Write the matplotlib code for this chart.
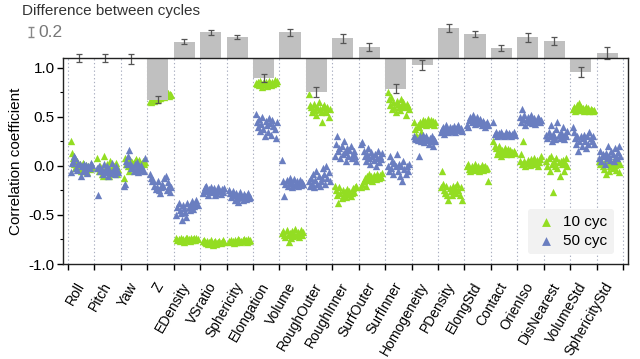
import matplotlib
matplotlib.use("Agg")
import matplotlib.pyplot as plt
import numpy as np
from matplotlib.ticker import MultipleLocator, FixedLocator

plt.rcParams['font.family'] = ['Liberation Sans', 'DejaVu Sans']

categories = ["Roll", "Pitch", "Yaw", "Z", "EDensity", "VSratio", "Sphericity",
              "Elongation", "Volume", "RoughOuter", "RoughInner", "SurfOuter",
              "SurfInner", "Homogeneity", "PDensity", "ElongStd", "Contact",
              "OrienIso", "DisNearest", "VolumeStd", "SphericityStd"]

# difference between cycles (50 cyc - 10 cyc) and its error
diff = [0.0, 0.0, -0.02, -0.85, 0.33, 0.52, 0.43, -0.41, 0.52, -0.70, 0.40,
        0.22, -0.63, -0.15, 0.61, 0.49, 0.20, 0.42, 0.35, -0.29, 0.10]
diff_err = [0.075, 0.085, 0.095, 0.075, 0.05, 0.05, 0.045, 0.075, 0.07, 0.105,
            0.085, 0.085, 0.09, 0.10, 0.075, 0.07, 0.065, 0.095, 0.075, 0.10, 0.12]

corr_10cyc = [
    [0.25, 0.13, 0.08, 0.02, -0.02, 0.0, 0.05, -0.03, 0.02, -0.05, 0.0, 0.03, -0.04, -0.02, 0.01, -0.06, 0.0, -0.03, 0.02, -0.01],
    [0.08, -0.02, -0.05, 0.0, -0.08, -0.1, 0.1, -0.03, -0.06, 0.02, -0.04, -0.1, 0.05, -0.02, -0.07, 0.0, -0.05, 0.03, -0.08, -0.03],
    [-0.12, 0.08, 0.02, 0.05, 0.0, -0.05, 0.06, 0.03, 0.04, 0.02, -0.02, 0.05, 0.07, 0.01, 0.04, 0.06, 0.03, 0.0, 0.05, 0.02, 0.04],
    [0.66, 0.65, 0.67, 0.68, 0.66, 0.69, 0.67, 0.68, 0.70, 0.69, 0.70, 0.71, 0.72, 0.70, 0.73, 0.72, 0.74, 0.71, 0.73, 0.72],
    [-0.74, -0.76, -0.75, -0.77, -0.74, -0.76, -0.75, -0.78, -0.76, -0.74, -0.73, -0.75, -0.77, -0.74, -0.76, -0.75, -0.73, -0.76, -0.74, -0.75],
    [-0.77, -0.76, -0.78, -0.79, -0.77, -0.80, -0.78, -0.76, -0.79, -0.81, -0.78, -0.77, -0.80, -0.79, -0.78, -0.77, -0.79, -0.78, -0.76, -0.78],
    [-0.77, -0.78, -0.76, -0.77, -0.79, -0.76, -0.78, -0.77, -0.75, -0.76, -0.78, -0.77, -0.76, -0.75, -0.77, -0.76, -0.78, -0.75, -0.77, -0.76],
    [0.85, 0.83, 0.86, 0.82, 0.87, 0.84, 0.80, 0.85, 0.83, 0.86, 0.81, 0.84, 0.87, 0.85, 0.82, 0.86, 0.84, 0.88, 0.85, 0.87],
    [-0.68, -0.66, -0.70, -0.72, -0.65, -0.70, -0.78, -0.68, -0.73, -0.66, -0.71, -0.69, -0.64, -0.70, -0.67, -0.72, -0.68, -0.65, -0.70, -0.67],
    [0.73, 0.62, 0.60, 0.55, 0.58, 0.63, 0.57, 0.52, 0.60, 0.65, 0.58, 0.55, 0.45, 0.60, 0.62, 0.57, 0.55, 0.60, 0.50, 0.58],
    [-0.20, -0.25, -0.30, -0.38, -0.22, -0.28, -0.33, -0.25, -0.30, -0.27, -0.32, -0.24, -0.29, -0.26, -0.31, -0.28, -0.23, -0.27, -0.22, -0.20],
    [-0.22, -0.18, -0.15, -0.12, -0.20, -0.10, -0.14, -0.08, -0.12, -0.10, -0.15, -0.09, -0.11, -0.13, -0.08, -0.10, -0.12, -0.09, -0.11, -0.07],
    [0.75, 0.68, 0.62, 0.70, 0.58, 0.65, 0.60, 0.55, 0.66, 0.63, 0.60, 0.57, 0.68, 0.62, 0.65, 0.60, 0.52, 0.63, 0.61, 0.58],
    [0.45, 0.38, 0.32, 0.42, 0.40, 0.45, 0.35, 0.43, 0.47, 0.44, 0.46, 0.42, 0.48, 0.45, 0.43, 0.47, 0.44, 0.46, 0.42, 0.45],
    [-0.22, -0.05, -0.18, -0.25, -0.28, -0.20, -0.30, -0.35, -0.23, -0.26, -0.30, -0.20, -0.25, -0.22, -0.28, -0.18, -0.25, -0.30, -0.22, -0.35],
    [0.0, 0.02, -0.03, -0.05, 0.0, -0.02, -0.04, 0.02, -0.01, -0.03, 0.0, -0.05, -0.02, 0.01, -0.04, -0.01, 0.0, -0.03, -0.02, -0.15],
    [0.25, 0.20, 0.18, 0.12, 0.15, 0.20, 0.14, 0.10, 0.16, 0.13, 0.18, 0.12, 0.15, 0.17, 0.13, 0.16, 0.12, 0.14, 0.15, 0.13],
    [0.05, 0.12, 0.02, 0.25, 0.05, 0.0, 0.03, 0.06, 0.04, 0.01, 0.07, 0.03, 0.05, 0.08, 0.02, 0.06, 0.0, 0.04, 0.07, 0.10],
    [0.05, 0.0, 0.08, -0.05, 0.10, 0.02, -0.27, 0.05, 0.0, 0.08, -0.02, 0.04, -0.10, 0.05, 0.02, 0.06, -0.05, 0.03, 0.08, 0.0],
    [0.58, 0.60, 0.56, 0.57, 0.62, 0.58, 0.64, 0.60, 0.57, 0.59, 0.56, 0.58, 0.60, 0.57, 0.59, 0.56, 0.58, 0.57, 0.56, 0.57],
    [0.05, 0.02, 0.06, 0.0, -0.03, 0.04, -0.08, 0.02, 0.05, -0.05, 0.0, 0.03, -0.02, 0.06, 0.01, -0.04, 0.02, 0.04, -0.06, 0.02],
]

corr_50cyc = [
    [-0.06, 0.03, 0.05, 0.10, 0.08, -0.02, -0.04, 0.03, 0.02, -0.10, 0.0, -0.05, 0.02, -0.03, 0.01, -0.07, 0.0, -0.02, 0.03, 0.01],
    [-0.02, -0.30, 0.0, -0.05, -0.03, -0.08, 0.02, -0.06, -0.04, 0.0, -0.10, -0.03, -0.07, 0.03, -0.05, -0.02, -0.08, 0.0, -0.04, -0.06],
    [-0.20, -0.18, 0.05, 0.02, 0.10, 0.16, 0.03, -0.02, 0.0, -0.05, 0.02, -0.03, 0.04, -0.06, 0.0, -0.04, 0.01, -0.03, -0.05, 0.08],
    [-0.08, -0.12, -0.15, -0.14, -0.20, -0.24, -0.22, -0.15, -0.25, -0.28, -0.22, -0.18, -0.20, -0.12, -0.10, -0.25, -0.16, -0.20, -0.27, -0.22],
    [-0.50, -0.42, -0.38, -0.45, -0.48, -0.55, -0.40, -0.43, -0.47, -0.52, -0.38, -0.42, -0.45, -0.40, -0.36, -0.44, -0.41, -0.38, -0.35, -0.40],
    [-0.28, -0.25, -0.22, -0.20, -0.26, -0.30, -0.24, -0.22, -0.27, -0.25, -0.23, -0.30, -0.28, -0.26, -0.22, -0.25, -0.29, -0.24, -0.27, -0.23],
    [-0.25, -0.28, -0.32, -0.26, -0.30, -0.35, -0.28, -0.33, -0.37, -0.30, -0.27, -0.32, -0.35, -0.29, -0.31, -0.34, -0.30, -0.28, -0.33, -0.32],
    [0.53, 0.45, 0.40, 0.48, 0.36, 0.43, 0.50, 0.38, 0.30, 0.46, 0.42, 0.35, 0.49, 0.44, 0.32, 0.47, 0.41, 0.38, 0.28, 0.45],
    [0.06, -0.15, -0.31, -0.18, -0.14, -0.20, -0.17, -0.12, -0.16, -0.22, -0.19, -0.13, -0.18, -0.15, -0.20, -0.17, -0.14, -0.19, -0.16, -0.18],
    [-0.15, -0.20, -0.12, -0.18, -0.08, -0.22, -0.14, -0.05, -0.18, -0.10, -0.20, -0.15, -0.12, -0.02, -0.08, -0.18, 0.0, -0.12, -0.06, -0.15],
    [0.10, 0.22, 0.30, 0.15, 0.18, 0.08, 0.20, 0.12, 0.25, 0.14, 0.05, 0.18, 0.10, 0.16, 0.20, 0.08, 0.12, 0.15, 0.10, 0.05],
    [0.22, 0.24, 0.15, 0.10, 0.05, 0.12, 0.18, 0.08, 0.02, 0.14, 0.10, 0.06, 0.12, 0.0, 0.08, 0.15, 0.04, 0.10, 0.07, 0.13],
    [0.0, -0.05, 0.10, -0.02, 0.05, -0.08, 0.03, 0.0, 0.12, -0.05, 0.02, -0.10, 0.0, -0.15, 0.05, -0.03, -0.08, 0.0, -0.05, 0.02],
    [0.30, 0.28, 0.27, 0.26, 0.10, 0.30, 0.25, 0.28, 0.32, 0.24, 0.28, 0.30, 0.26, 0.22, 0.28, 0.25, 0.30, 0.20, 0.27, 0.25],
    [0.35, 0.38, 0.40, 0.33, 0.36, 0.42, 0.38, 0.35, 0.40, 0.37, 0.39, 0.36, 0.41, 0.35, 0.38, 0.40, 0.42, 0.37, 0.39, 0.36],
    [0.42, 0.40, 0.47, 0.50, 0.45, 0.52, 0.48, 0.43, 0.47, 0.50, 0.45, 0.44, 0.48, 0.42, 0.46, 0.44, 0.40, 0.43, 0.45, 0.42],
    [0.45, 0.33, 0.35, 0.30, 0.32, 0.34, 0.31, 0.35, 0.33, 0.30, 0.32, 0.35, 0.33, 0.31, 0.34, 0.32, 0.30, 0.33, 0.35, 0.32],
    [0.50, 0.45, 0.58, 0.48, 0.52, 0.42, 0.47, 0.50, 0.45, 0.48, 0.52, 0.44, 0.47, 0.49, 0.43, 0.46, 0.50, 0.48, 0.45, 0.47],
    [0.32, 0.28, 0.35, 0.30, 0.42, 0.25, 0.33, 0.30, 0.27, 0.38, 0.45, 0.32, 0.28, 0.35, 0.30, 0.40, 0.27, 0.33, 0.30, 0.36],
    [0.40, 0.35, 0.28, 0.22, 0.30, 0.15, 0.25, 0.30, 0.20, 0.28, 0.32, 0.25, 0.18, 0.30, 0.22, 0.35, 0.28, 0.25, 0.30, 0.22],
    [0.08, 0.15, 0.05, 0.12, 0.10, 0.02, 0.13, 0.08, 0.20, 0.10, 0.06, 0.15, 0.12, 0.05, 0.18, 0.10, 0.08, 0.14, 0.20, 0.10],
]

series_labels = ["10 cyc", "50 cyc"]
scale_value = 0.2

# ---- style ----
GREEN = "#93DD22"
BLUE = "#6A7EC0"
BAR = "#C0C0C0"
DIFF_SCALE = 0.5   # bar length per unit difference, in correlation-axis units
BASE = 1.1

fig = plt.figure(figsize=(6.4, 3.59), dpi=100)
ax = fig.add_axes([63 / 640, 1 - 264 / 359, 565 / 640, 206 / 359])
n = len(categories)
ax.set_xlim(-0.19, n + 0.19)
ax.set_ylim(-1.0, BASE)

# vertical dotted separators
for b in range(n + 1):
    ax.axvline(b, color="#a9aec0", lw=0.8, ls=(0, (1.2, 2.2)), zorder=0)

# scatter
def xs_for(i, m):
    return i + 0.1 + 0.8 * np.arange(m) / (m - 1)

for i in range(n):
    v = corr_10cyc[i]
    ax.scatter(xs_for(i, len(v)), v, marker="^", s=28, color=GREEN, lw=0, zorder=2,
               label=series_labels[0] if i == 0 else None)
for i in range(n):
    v = corr_50cyc[i]
    ax.scatter(xs_for(i, len(v)), v, marker="^", s=28, color=BLUE, lw=0, zorder=3,
               label=series_labels[1] if i == 0 else None)

# difference bars
x_idx = np.arange(n)
heights = np.array(diff) * DIFF_SCALE
ax.bar(x_idx, heights, width=0.8, bottom=BASE, align="edge", color=BAR,
       zorder=4, clip_on=False)
ax.errorbar(x_idx + 0.4, BASE + heights, yerr=np.array(diff_err) * DIFF_SCALE,
            fmt="none", ecolor="#555555", elinewidth=0.9, capsize=2.2,
            capthick=0.9, zorder=5, clip_on=False)

# scale bar
sx = -1.40
sy = 1.367
eb = ax.errorbar([sx], [sy], yerr=[scale_value * DIFF_SCALE / 2], fmt="none",
                 ecolor="#888888", elinewidth=1.0, capsize=2.5, capthick=1.0,
                 clip_on=False)
for art in eb.lines[1] + eb.lines[2]:
    art.set_clip_on(False)
ax.text(sx + 0.27, sy - 0.005, f"{scale_value}", color="#777777", fontsize=12.5,
        va="center", ha="left", clip_on=False)
fig.text(22 / 640, 1 - 4 / 359, "Difference between cycles", fontsize=11,
         color="#333333", ha="left", va="top")

# axes styling
for s in ax.spines.values():
    s.set_linewidth(1.0)
    s.set_color("#222222")
    s.set_zorder(6)
ax.yaxis.set_major_locator(MultipleLocator(0.5))
ax.yaxis.set_minor_locator(MultipleLocator(0.25))
ax.set_yticks([-1.0, -0.5, 0.0, 0.5, 1.0])
ax.set_yticklabels(["-1.0", "-0.5", "0.0", "0.5", "1.0"])
ax.tick_params(axis="y", which="major", direction="out", length=4, width=1,
               labelsize=11, pad=2)
ax.tick_params(axis="y", which="minor", direction="out", length=2.5, width=0.8)
ax.set_ylabel("Correlation coefficient", fontsize=11, labelpad=4)

ax.xaxis.set_major_locator(FixedLocator(np.arange(n + 1)))
ax.xaxis.set_major_formatter(plt.NullFormatter())
ax.xaxis.set_minor_locator(FixedLocator(np.arange(n) + 0.5))
ax.set_xticklabels(categories, minor=True, rotation=60, ha="right",
                   va="center", rotation_mode="anchor", fontsize=10)
ax.tick_params(axis="x", which="major", direction="out", length=4, width=1)
ax.tick_params(axis="x", which="minor", length=0, pad=14)

leg = ax.legend(loc="lower right", bbox_to_anchor=(0.988, 0.012), fontsize=11,
                frameon=True, fancybox=True, framealpha=1, handletextpad=0.4,
                handlelength=1.5, borderpad=0.4, labelspacing=0.3, markerscale=1.2)
leg.get_frame().set_facecolor("#F2F2F2")
leg.get_frame().set_edgecolor("none")
leg.set_zorder(7)

fig.savefig("out.png", dpi=100)
